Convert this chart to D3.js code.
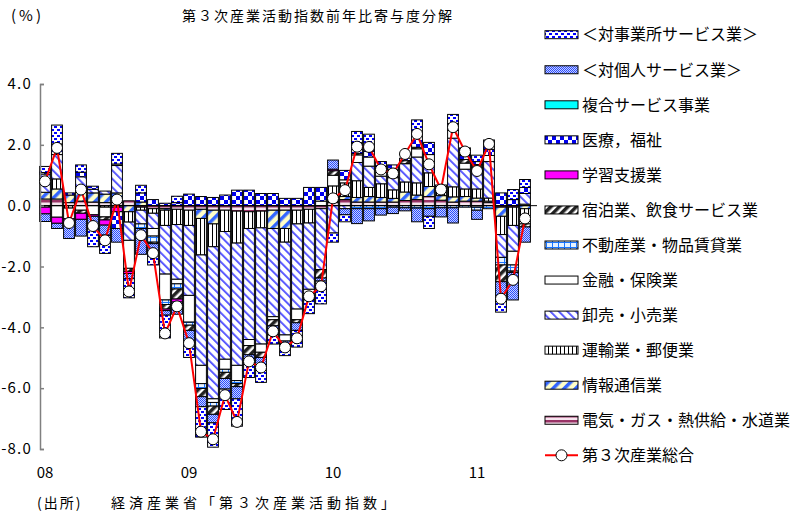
<!DOCTYPE html>
<html><head><meta charset="utf-8">
<script src="https://cdn.jsdelivr.net/npm/d3@7"></script>
<style>
body{margin:0;background:#fff;}
svg text{font-family:"Noto Sans CJK JP","Noto Sans",sans-serif;fill:#000;}
</style></head><body>
<svg id="chart" width="803" height="518"></svg>
<script>
// Months, Jan 2008 – May 2011
const months = ["2008-01","2008-02","2008-03","2008-04","2008-05","2008-06","2008-07","2008-08","2008-09","2008-10","2008-11","2008-12",
  "2009-01","2009-02","2009-03","2009-04","2009-05","2009-06","2009-07","2009-08","2009-09","2009-10","2009-11","2009-12",
  "2010-01","2010-02","2010-03","2010-04","2010-05","2010-06","2010-07","2010-08","2010-09","2010-10","2010-11","2010-12",
  "2011-01","2011-02","2011-03","2011-04","2011-05"];
const yearTickMonths = ["2008-01","2009-01","2010-01","2011-01"];
const yearTickLabels = ["08","09","10","11"];
const yTicks = [4, 2, 0, -2, -4, -6, -8];

// Contributions by industry (percentage points)
const elec     = [.22,.22,.1,.15,.12,.1,.2,.16,-.05,-.1,-.1,-.12,-.15,-.12,-.15,-.15,-.18,-.2,-.18,-.15,-.15,-.15,-.12,-.1,.1,.2,.12,.12,.12,.12,.17,.2,.3,.18,.12,.15,.15,.1,-.05,-.05,.05];
const info     = [.22,.33,.25,.3,.3,.28,.22,-.2,.12,0,-.05,0,0,-.3,-.45,0,0,0,0,-.6,-.6,0,0,0,.05,.1,.15,.18,.15,.12,.28,.15,.33,.15,.17,.15,.1,.05,-.3,0,-.1];
const trans    = [0,.33,-.08,0,0,-.05,0,-.34,-.1,-.15,-.5,-.5,-.5,-1.2,-.75,-.7,-1.05,-.55,-.55,0,-.45,-.45,-.45,0,.5,.45,.55,.3,.45,.28,.33,.4,.45,.15,.33,.25,.3,.1,-.6,-.6,-.4];
const retail   = [.6,.8,0,.5,.12,.1,.9,-.6,-.45,-.5,-1.6,-1.8,-2.3,-3.63,-5.0,-4.2,-4.02,-3.65,-3.82,-2.9,-3.05,-2.8,-2.18,-2.0,-.9,-.1,.6,.7,.25,.4,.6,.85,.3,0,1.6,.65,.7,1.2,-.75,-.85,.35];
const finance  = [0,-.38,-.35,-.15,-.3,-.32,.05,-.92,0,-.25,-.85,-.15,-.88,-.6,-.12,-.33,-.5,-.2,-.27,-.1,-.2,-.35,-.25,.15,.35,.1,.25,.3,.25,.28,0,.27,.3,0,.25,.2,-.05,.2,0,-.45,-.1];
const realty   = [0,0,0,0,0,0,0,0,-.15,-.2,-.15,-.17,-.1,-.16,-.12,-.1,-.1,0,0,0,0,0,0,0,0,0,-.1,-.1,-.1,-.05,-.07,-.08,-.1,-.07,-.07,-.05,-.1,-.1,-.25,-.2,0];
const hotel    = [-.05,0,0,-.1,0,-.1,-.05,-.1,0,-.05,-.15,-.33,-.17,-.27,-.27,-.2,-.1,-.3,-.17,-.2,0,-.1,0,-.28,.15,0,.05,0,0,0,.1,.05,0,0,0,.12,.1,0,-.55,-.05,-.1];
const learning = [-.22,-.2,-.15,-.2,-.05,-.17,-.15,-.07,0,0,-.05,-.1,0,0,0,0,0,0,0,0,0,0,0,0,.05,0,0,0,0,0,0,0,0,0,0,0,0,0,0,0,0];
const medical  = [.05,.35,.07,.15,.1,0,-.55,0,.3,.2,.08,.1,.38,.3,.27,.35,.51,.51,.4,.4,.24,.24,.6,.45,0,.31,.35,.2,.08,.14,.08,.4,.4,.2,.23,.13,.1,.2,.42,.2,.2];
const compound = [0,0,0,0,0,0,0,0,0,0,0,0,0,0,0,0,0,0,0,0,0,0,0,0,0,0,0,0,0,0,0,0,0,0,0,0,0,0,0,0,0];
const personal = [-.25,-.17,-.5,-.55,-.4,-.33,-.45,-.17,-.85,-.3,-.15,-.4,-.4,-.33,-.28,-.35,-.4,-.3,-.27,-.3,-.08,-.25,-.1,-.1,.3,-.2,-.49,-.4,-.21,-.21,-.1,-.45,-.25,-.3,-.5,0,-.3,0,-.65,-.9,-.5];
const business = [.2,.62,0,.24,-.6,-.6,.35,-.63,.25,-.4,-.75,.21,-.49,-1.0,-.8,-.67,-.9,-.45,-.55,-.3,-.4,-.55,-.45,-.75,-.3,-.23,.37,.55,.15,0,0,.5,-.4,0,.3,.25,.21,.31,-.35,.33,.26];
// Tertiary industry activity index, y/y %
const total    = [.8,1.9,-.57,.53,-.67,-1.14,.2,-2.82,-.97,-1.56,-4.2,-3.31,-4.52,-7.43,-7.68,-6.23,-7.11,-5.12,-5.32,-4.13,-4.66,-4.36,-2.98,-2.65,.24,.51,1.94,1.93,1.19,1.06,1.7,2.36,1.36,.53,2.58,1.78,1.14,2.03,-3.06,-2.44,-.42];

const series = [
  {key:"elec",     name:"電気・ガス・熱供給・水道業", values:elec},
  {key:"info",     name:"情報通信業", values:info},
  {key:"trans",    name:"運輸業・郵便業", values:trans},
  {key:"retail",   name:"卸売・小売業", values:retail},
  {key:"finance",  name:"金融・保険業", values:finance},
  {key:"realty",   name:"不動産業・物品賃貸業", values:realty},
  {key:"hotel",    name:"宿泊業、飲食サービス業", values:hotel},
  {key:"learning", name:"学習支援業", values:learning},
  {key:"medical",  name:"医療，福祉", values:medical},
  {key:"compound", name:"複合サービス事業", values:compound},
  {key:"personal", name:"＜対個人サービス業＞", values:personal},
  {key:"business", name:"＜対事業所サービス業＞", values:business}
];
const totalName = "第３次産業総合";

const svg = d3.select("#chart");
const defs = svg.append("defs");

// Fill patterns for each industry
function makePattern(id, w, h, draw, transform) {
  const p = defs.append("pattern").attr("id", id).attr("patternUnits", "userSpaceOnUse")
    .attr("width", w).attr("height", h);
  if (transform) p.attr("patternTransform", transform);
  draw(p);
}
makePattern("p-elec", 4, 5, p => {
  p.append("rect").attr("width", 4).attr("height", 5).attr("fill", "#f6e4ee");
  p.append("rect").attr("y", 0).attr("width", 4).attr("height", 2.5).attr("fill", "#993366");
});
makePattern("p-info", 8, 8, p => {
  p.append("rect").attr("width", 8).attr("height", 8).attr("fill", "#ffffc8");
  p.append("rect").attr("width", 3.5).attr("height", 8).attr("fill", "#3366ff");
}, "rotate(45)");
makePattern("p-trans", 4, 4, p => {
  p.append("rect").attr("width", 4).attr("height", 4).attr("fill", "#fff");
  p.append("rect").attr("width", 1).attr("height", 4).attr("fill", "#000");
});
makePattern("p-retail", 6, 6, p => {
  p.append("rect").attr("width", 6).attr("height", 6).attr("fill", "#fff");
  p.append("rect").attr("width", 1.8).attr("height", 6).attr("fill", "#4d4dff");
}, "rotate(-45)");
makePattern("p-realty", 6, 5, p => {
  p.append("rect").attr("width", 6).attr("height", 5).attr("fill", "#e6f2ff");
  p.append("rect").attr("y", 2).attr("width", 6).attr("height", 1).attr("fill", "#1a75ff");
  p.append("rect").attr("x", 0).attr("width", 1).attr("height", 5).attr("fill", "#1a75ff");
});
makePattern("p-hotel", 6, 6, p => {
  p.append("rect").attr("width", 6).attr("height", 6).attr("fill", "#fff");
  p.append("rect").attr("width", 3.5).attr("height", 6).attr("fill", "#222");
}, "rotate(45)");
makePattern("p-medical", 8, 8, p => {
  p.append("rect").attr("width", 8).attr("height", 8).attr("fill", "#fff");
  p.append("rect").attr("width", 4).attr("height", 4).attr("fill", "#0000ee");
  p.append("rect").attr("x", 4).attr("y", 4).attr("width", 4).attr("height", 4).attr("fill", "#0000ee");
});
makePattern("p-personal", 2, 2, p => {
  p.append("rect").attr("width", 2).attr("height", 2).attr("fill", "#c8d2ff");
  p.append("rect").attr("width", 1).attr("height", 1).attr("fill", "#2a4cff");
  p.append("rect").attr("x", 1).attr("y", 1).attr("width", 1).attr("height", 1).attr("fill", "#2a4cff");
});
makePattern("p-business", 6, 6, p => {
  p.append("rect").attr("width", 6).attr("height", 6).attr("fill", "#fff");
  p.append("rect").attr("width", 3).attr("height", 2).attr("fill", "#0000ff");
  p.append("rect").attr("x", 3).attr("y", 3).attr("width", 3).attr("height", 2).attr("fill", "#0000ff");
});

const fills = {
  elec: "url(#p-elec)", info: "url(#p-info)", trans: "url(#p-trans)", retail: "url(#p-retail)",
  finance: "#ffffff", realty: "url(#p-realty)", hotel: "url(#p-hotel)", learning: "#ff00ff",
  medical: "url(#p-medical)", compound: "#00ffff", personal: "url(#p-personal)", business: "url(#p-business)"
};

// Scales
const x = d3.scaleBand().domain(months).range([39, 531]).paddingInner(0.1).paddingOuter(0.05);
const y = d3.scaleLinear().domain([-8, 4]).range([449, 84]);

// Stack positive and negative contributions separately
const table = months.map((m, i) => {
  const row = {month: m};
  series.forEach(s => row[s.key] = s.values[i]);
  return row;
});
const stacked = d3.stack().keys(series.map(s => s.key)).offset(d3.stackOffsetDiverging)(table);

const barsG = svg.append("g");
stacked.forEach(layer => {
  barsG.append("g").selectAll("rect")
    .data(layer.filter(d => d[1] !== d[0]))
    .join("rect")
    .attr("x", d => x(d.data.month))
    .attr("width", x.bandwidth())
    .attr("y", d => y(Math.max(d[0], d[1])))
    .attr("height", d => Math.abs(y(d[0]) - y(d[1])))
    .attr("fill", fills[layer.key])
    .attr("stroke", "#000")
    .attr("stroke-width", 1);
});

// Zero line
svg.append("line").attr("x1", 40).attr("x2", 537).attr("y1", y(0)).attr("y2", y(0))
  .attr("stroke", "#000").attr("stroke-width", 1);

// Y axis
const yAxis = d3.axisLeft(y).tickValues(yTicks).tickFormat(d => d.toFixed(1))
  .tickSizeInner(-4).tickSizeOuter(-4).tickPadding(8);
const yG = svg.append("g").attr("transform", "translate(40,0)").call(yAxis);
yG.selectAll("path, line").attr("stroke", "#808080").attr("stroke-width", 1.5);
yG.selectAll("text").attr("font-size", 15).attr("letter-spacing", 1.2)
  .attr("font-family", "'Noto Sans CJK JP'");

// X axis labels
const xAxis = d3.axisBottom(x).tickValues(yearTickMonths)
  .tickFormat((d, i) => yearTickLabels[i]).tickSize(0).tickPadding(0);
const xG = svg.append("g").attr("transform", "translate(0,467)").call(xAxis);
xG.select(".domain").remove();
xG.selectAll("text").attr("font-size", 15).attr("font-family", "'Noto Sans CJK JP'");

// Total line with markers
const cx = m => x(m) + x.bandwidth() / 2;
svg.append("path").datum(total)
  .attr("fill", "none").attr("stroke", "#ff0000").attr("stroke-width", 2)
  .attr("d", d3.line().x((d, i) => cx(months[i])).y(d => y(d)));
svg.append("g").selectAll("circle").data(total).join("circle")
  .attr("cx", (d, i) => cx(months[i])).attr("cy", d => y(d)).attr("r", 5.5)
  .attr("fill", "#fff").attr("stroke", "#000").attr("stroke-width", 1);

// Titles
svg.append("text").attr("x", 318).attr("y", 21).attr("text-anchor", "middle")
  .attr("font-size", 14).attr("letter-spacing", 2).text("第３次産業活動指数前年比寄与度分解");
svg.append("text").attr("x", 11).attr("y", 21).attr("font-size", 15).attr("letter-spacing", 3).text("(%)");
svg.append("text").attr("x", 37).attr("y", 508).attr("font-size", 14).attr("letter-spacing", 2)
  .text("(出所)");
svg.append("text").attr("x", 111).attr("y", 508).attr("font-size", 14).attr("letter-spacing", 4)
  .text("経済産業省「第３次産業活動指数」");

// Legend
const legendItems = series.slice().reverse();
const lg = svg.append("g");
const rowY = i => 34.7 + 35.05 * i;
legendItems.forEach((s, i) => {
  lg.append("rect").attr("x", 545).attr("y", rowY(i) - 4).attr("width", 33).attr("height", 8)
    .attr("fill", fills[s.key]).attr("stroke", "#000").attr("stroke-width", 1);
  lg.append("text").attr("x", 582).attr("y", rowY(i)).attr("dy", "0.36em")
    .attr("font-size", 16).text(s.name);
});
const li = legendItems.length;
lg.append("line").attr("x1", 545).attr("x2", 578).attr("y1", rowY(li)).attr("y2", rowY(li))
  .attr("stroke", "#ff0000").attr("stroke-width", 2);
lg.append("circle").attr("cx", 561.5).attr("cy", rowY(li)).attr("r", 5.5)
  .attr("fill", "#fff").attr("stroke", "#000");
lg.append("text").attr("x", 582).attr("y", rowY(li)).attr("dy", "0.36em")
  .attr("font-size", 16).text(totalName);
</script>
</body></html>
